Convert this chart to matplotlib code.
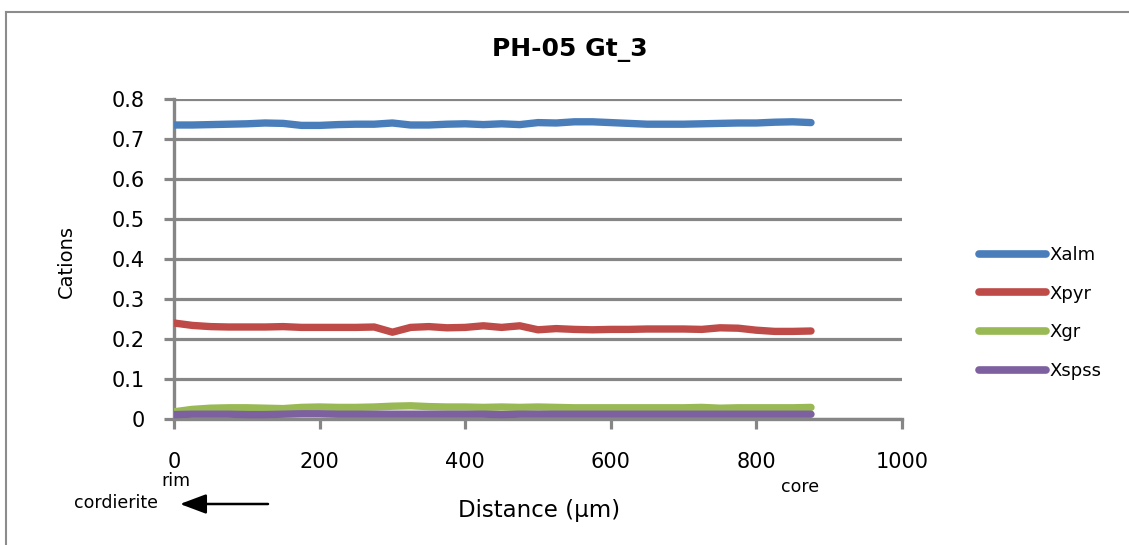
import matplotlib
matplotlib.use("Agg")
import matplotlib.pyplot as plt
from matplotlib.patches import FancyArrowPatch

# Garnet profile PH-05 Gt_3: end-member fractions along the traverse (rim -> core)
distance = [0, 25, 50, 75, 100, 125, 150, 175, 200, 225, 250, 275, 300, 325, 350,
            375, 400, 425, 450, 475, 500, 525, 550, 575, 600, 625, 650, 675, 700,
            725, 750, 775, 800, 825, 850, 875]

xalm = [0.735, 0.735, 0.736, 0.737, 0.738, 0.740, 0.739, 0.734, 0.734, 0.736,
        0.737, 0.737, 0.740, 0.735, 0.735, 0.737, 0.738, 0.736, 0.738, 0.736,
        0.741, 0.740, 0.743, 0.743, 0.741, 0.739, 0.737, 0.737, 0.737, 0.738,
        0.739, 0.740, 0.740, 0.742, 0.743, 0.741]

xpyr = [0.240, 0.234, 0.231, 0.230, 0.230, 0.230, 0.231, 0.229, 0.229, 0.229,
        0.229, 0.230, 0.217, 0.229, 0.231, 0.228, 0.229, 0.233, 0.229, 0.233,
        0.223, 0.226, 0.224, 0.223, 0.224, 0.224, 0.225, 0.225, 0.225, 0.224,
        0.228, 0.227, 0.222, 0.219, 0.219, 0.220]

xgr = [0.018, 0.024, 0.027, 0.028, 0.028, 0.027, 0.026, 0.029, 0.030, 0.029,
       0.029, 0.030, 0.032, 0.033, 0.031, 0.030, 0.030, 0.029, 0.030, 0.029,
       0.030, 0.029, 0.028, 0.028, 0.028, 0.028, 0.028, 0.028, 0.028, 0.029,
       0.027, 0.028, 0.028, 0.028, 0.028, 0.029]

xspss = [0.011, 0.012, 0.012, 0.012, 0.011, 0.011, 0.012, 0.013, 0.013, 0.012,
         0.012, 0.012, 0.012, 0.012, 0.012, 0.012, 0.012, 0.012, 0.011, 0.012,
         0.012, 0.012, 0.012, 0.012, 0.012, 0.012, 0.012, 0.012, 0.012, 0.012,
         0.012, 0.012, 0.012, 0.012, 0.012, 0.012]

series = [("Xalm", xalm, "#4a7ebb"),
          ("Xpyr", xpyr, "#be4b48"),
          ("Xgr", xgr, "#98b954"),
          ("Xspss", xspss, "#7d60a0")]

x_ticks = [0, 200, 400, 600, 800, 1000]
y_ticks = [0, 0.1, 0.2, 0.3, 0.4, 0.5, 0.6, 0.7, 0.8]

plt.rcParams["font.family"] = ["DejaVu Sans"]

W, H = 1129, 545
fig = plt.figure(figsize=(W / 100, H / 100), dpi=100)
fig.patch.set_facecolor("white")


def fx(px):
    return px / W


def fy(py):
    return 1 - py / H


# chart-area frame (left and top edges visible)
fig.add_artist(plt.Line2D([fx(6), fx(6)], [0, fy(12)],
                          transform=fig.transFigure, color="#8c8c8c", lw=1.5))
fig.add_artist(plt.Line2D([fx(6), 1], [fy(12), fy(12)],
                          transform=fig.transFigure, color="#8c8c8c", lw=1.5))

ax = fig.add_axes([fx(174), fy(419), (902 - 174) / W, (419 - 99) / H])

for name, vals, col in series:
    ax.plot(distance, vals, color=col, lw=5.3, label=name,
            solid_capstyle="round", solid_joinstyle="round", zorder=3)

ax.set_xlim(0, 1000)
ax.set_ylim(0, 0.8)
ax.set_xticks(x_ticks)
ax.set_yticks(y_ticks)
ax.set_xticklabels([str(v) for v in x_ticks])
ax.set_yticklabels(["0" if v == 0 else f"{v:.1f}" for v in y_ticks])
ax.tick_params(axis="both", labelsize=15, colors="#868686", labelcolor="black",
               length=7, width=2.3, direction="out")
ax.tick_params(axis="x", pad=17)
ax.tick_params(axis="y", pad=14)

ax.grid(axis="y", color="#868686", lw=2.3, zorder=1)
ax.set_axisbelow(True)
for side in ("top", "right"):
    ax.spines[side].set_visible(False)
for side in ("left", "bottom"):
    ax.spines[side].set_color("#868686")
    ax.spines[side].set_linewidth(2.4)

fig.text(fx(570), fy(50), "PH-05 Gt_3", ha="center", va="center",
         fontsize=18, fontweight="bold")
fig.text(fx(66), fy(261), "Cations", ha="center", va="center",
         rotation=90, fontsize=14)
fig.text(fx(539), fy(510), "Distance (µm)", ha="center", va="center",
         fontsize=16.5)
fig.text(fx(176), fy(481), "rim", ha="center", va="center", fontsize=12.5)
fig.text(fx(800), fy(487), "core", ha="center", va="center", fontsize=12.5)
fig.text(fx(116), fy(503), "cordierite", ha="center", va="center", fontsize=12.5)
fig.add_artist(FancyArrowPatch(
    (fx(268), fy(504)), (fx(180), fy(504)),
    transform=fig.transFigure, arrowstyle="-|>,head_length=0.8,head_width=0.3",
    mutation_scale=20, color="black", lw=1.8, shrinkA=0, shrinkB=0))

leg = ax.legend(loc="center left", bbox_to_anchor=(fx(972), fy(313)),
                bbox_transform=fig.transFigure, frameon=False, fontsize=13,
                handlelength=3.7, handletextpad=0.2, labelspacing=1.15,
                borderaxespad=0)
for line in leg.get_lines():
    line.set_linewidth(5.5)

fig.savefig("out.png", dpi=100, facecolor="white")
